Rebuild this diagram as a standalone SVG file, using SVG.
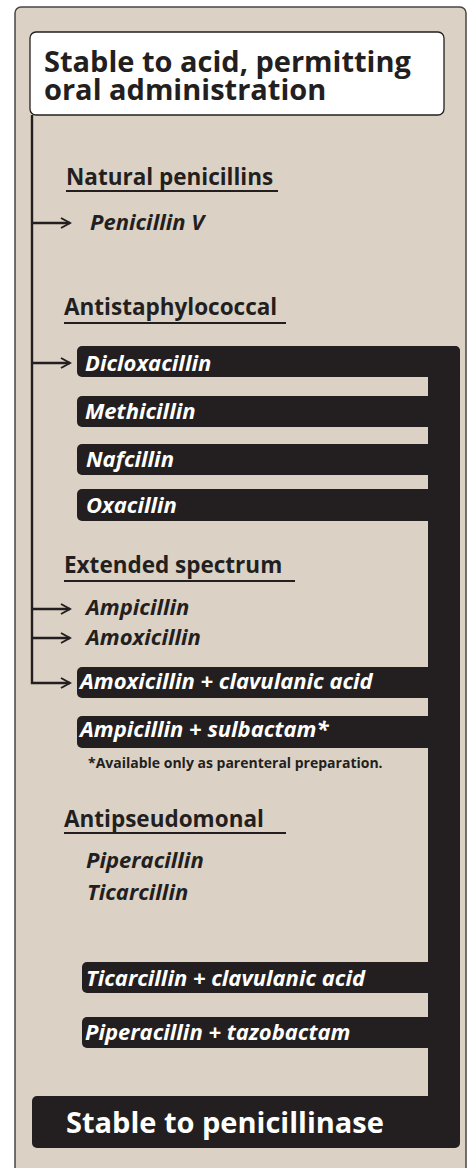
<svg xmlns="http://www.w3.org/2000/svg" width="471" height="1168" viewBox="0 0 471 1168">
<style>
.bg{fill:#dbd2c5;stroke:#4a4647;stroke-width:1.5}
.bar{fill:#231f20}
.ttl{font-family:"Open Sans","Liberation Sans",sans-serif;font-weight:700;font-size:29px}
.hd{font-family:"Open Sans","Liberation Sans",sans-serif;font-weight:700;font-size:22.5px;fill:#231f20}
.dr{font-family:"Open Sans","Liberation Sans",sans-serif;font-weight:700;font-style:italic;font-size:22px;fill:#231f20}
.drw{font-family:"Open Sans","Liberation Sans",sans-serif;font-weight:700;font-style:italic;font-size:22px;fill:#fff}
.fn{font-family:"Open Sans","Liberation Sans",sans-serif;font-weight:700;font-size:14px;fill:#231f20}
.ul{stroke:#231f20;stroke-width:2;fill:none}
.con{stroke:#231f20;stroke-width:2.4;fill:none}
</style>
<defs>
<marker id="arr" markerWidth="12" markerHeight="12" refX="10" refY="6" orient="auto" markerUnits="userSpaceOnUse">
<path d="M1,1 L10,6 L1,11" fill="none" stroke="#231f20" stroke-width="2"/>
</marker>
</defs>
<rect class="bg" x="15" y="7" width="451" height="1175" rx="6"/>

<g id="acid-stable">
<rect x="30" y="32" width="414" height="83" rx="6" fill="#fff" stroke="#231f20" stroke-width="1.3"/>
<text class="ttl" x="44" y="72" fill="#231f20">Stable to acid, permitting</text>
<text class="ttl" x="44" y="100" fill="#231f20">oral administration</text>
</g>

<g id="penicillinase-stable">
<rect class="bar" x="428" y="346" width="32" height="790" rx="5"/>
<rect class="bar" x="32" y="1096" width="428" height="52" rx="5"/>
<text class="ttl" x="66" y="1133" fill="#fff">Stable to penicillinase</text>
</g>

<g id="natural">
<text class="hd" x="66" y="185">Natural penicillins</text>
<line class="ul" x1="66" y1="191" x2="278" y2="191"/>
<text class="dr" x="90" y="230">Penicillin V</text>
</g>

<g id="antistaph">
<text class="hd" x="64" y="315">Antistaphylococcal</text>
<line class="ul" x1="64" y1="323" x2="286" y2="323"/>
<rect class="bar" x="77" y="346" width="383" height="31" rx="5"/>
<text class="drw" x="85" y="371">Dicloxacillin</text>
<rect class="bar" x="77" y="396" width="383" height="31" rx="5"/>
<text class="drw" x="85" y="419">Methicillin</text>
<rect class="bar" x="77" y="444" width="383" height="31" rx="5"/>
<text class="drw" x="86" y="467">Nafcillin</text>
<rect class="bar" x="77" y="489" width="383" height="32" rx="5"/>
<text class="drw" x="86" y="513">Oxacillin</text>
</g>

<g id="extended">
<text class="hd" x="64" y="573">Extended spectrum</text>
<line class="ul" x1="64" y1="581" x2="295" y2="581"/>
<text class="dr" x="86" y="615">Ampicillin</text>
<text class="dr" x="86" y="645">Amoxicillin</text>
<rect class="bar" x="77" y="667" width="383" height="31" rx="5"/>
<text class="drw" x="80" y="689">Amoxicillin + clavulanic acid</text>
<rect class="bar" x="77" y="716" width="383" height="32" rx="5"/>
<text class="drw" x="80" y="737">Ampicillin + sulbactam*</text>
<text class="fn" x="88" y="768">*Available only as parenteral preparation.</text>
</g>

<g id="antipseudomonal">
<text class="hd" x="64" y="827">Antipseudomonal</text>
<line class="ul" x1="64" y1="833" x2="286" y2="833"/>
<text class="dr" x="86" y="868">Piperacillin</text>
<text class="dr" x="87" y="900">Ticarcillin</text>
<rect class="bar" x="82" y="962" width="378" height="31" rx="5"/>
<text class="drw" x="86" y="986">Ticarcillin + clavulanic acid</text>
<rect class="bar" x="82" y="1017" width="378" height="31" rx="5"/>
<text class="drw" x="85" y="1040">Piperacillin + tazobactam</text>
</g>

<g id="connectors">
<path class="con" d="M32,115 V683 H70" marker-end="url(#arr)"/>
<line class="con" x1="32" y1="223" x2="70" y2="223" marker-end="url(#arr)"/>
<line class="con" x1="32" y1="363" x2="70" y2="363" marker-end="url(#arr)"/>
<line class="con" x1="32" y1="609" x2="70" y2="609" marker-end="url(#arr)"/>
<line class="con" x1="32" y1="638" x2="70" y2="638" marker-end="url(#arr)"/>
</g>
</svg>
